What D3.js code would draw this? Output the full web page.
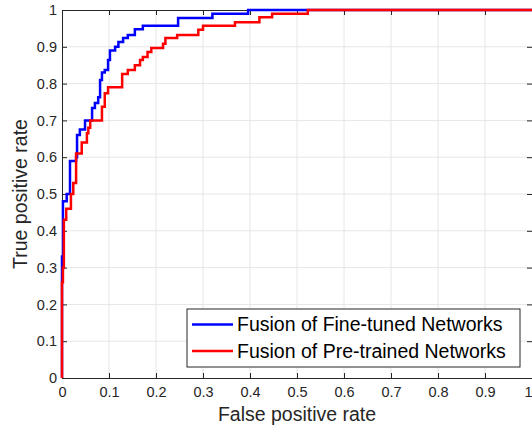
<!DOCTYPE html>
<html>
<head>
<meta charset="utf-8">
<script src="https://cdn.jsdelivr.net/npm/d3@7"></script>
<style>
body { margin: 0; background: #fff; }
svg { display: block; font-family: "Liberation Sans", Arial, sans-serif; }
</style>
</head>
<body>
<script>
// ROC corners: at fpr the curve rises to tpr
var fineFpr = [0, 0, 0.002, 0.01, 0.017, 0.03, 0.032, 0.038, 0.049, 0.064, 0.07, 0.077, 0.081, 0.085, 0.091, 0.098, 0.102, 0.113, 0.12, 0.13, 0.14, 0.155, 0.172, 0.247, 0.32, 0.396, 1];
var fineTpr = [0, 0.33, 0.48, 0.5, 0.59, 0.6, 0.66, 0.675, 0.70, 0.734, 0.747, 0.763, 0.81, 0.83, 0.837, 0.864, 0.89, 0.9, 0.913, 0.924, 0.932, 0.948, 0.957, 0.978, 0.99, 1, 1];

var preFpr = [0, 0, 0.002, 0.004, 0.009, 0.019, 0.024, 0.03, 0.042, 0.053, 0.056, 0.06, 0.085, 0.091, 0.098, 0.128, 0.14, 0.155, 0.166, 0.172, 0.182, 0.19, 0.215, 0.22, 0.245, 0.29, 0.3, 0.368, 0.42, 0.447, 0.523, 1];
var preTpr = [0, 0.26, 0.30, 0.43, 0.46, 0.50, 0.53, 0.61, 0.64, 0.665, 0.68, 0.70, 0.737, 0.774, 0.79, 0.826, 0.837, 0.85, 0.864, 0.872, 0.886, 0.897, 0.908, 0.924, 0.932, 0.946, 0.957, 0.967, 0.98, 0.99, 1, 1];

var seriesNames = ["Fusion of Fine-tuned Networks", "Fusion of Pre-trained Networks"];
var seriesColors = ["#0000ff", "#ff0000"];
var tickValues = [0, 0.1, 0.2, 0.3, 0.4, 0.5, 0.6, 0.7, 0.8, 0.9, 1];

var W = 532, H = 433;
var margin = {top: 10, right: 0, bottom: 55, left: 62};
var width = W - margin.left - margin.right;
var height = H - margin.top - margin.bottom;

var svg = d3.select("body").append("svg").attr("width", W).attr("height", H);
var g = svg.append("g").attr("transform", `translate(${margin.left},${margin.top})`);

var x = d3.scaleLinear().domain([0, 1]).range([0, width]);
var y = d3.scaleLinear().domain([0, 1]).range([height, 0]);

// grid
g.append("g").selectAll("line").data(tickValues.slice(1, -1)).join("line")
	.attr("x1", d => x(d)).attr("x2", d => x(d)).attr("y1", 0).attr("y2", height)
	.style("stroke", "#e6e6e6").style("stroke-width", 1);
g.append("g").selectAll("line").data(tickValues.slice(1, -1)).join("line")
	.attr("y1", d => y(d)).attr("y2", d => y(d)).attr("x1", 0).attr("x2", width)
	.style("stroke", "#e6e6e6").style("stroke-width", 1);

// axes, ticks pointing inward (matlab style)
var xAxis = g.append("g").attr("transform", `translate(0,${height})`)
	.call(d3.axisBottom(x).tickValues(tickValues).tickFormat(d3.format("")).tickSizeInner(-5).tickSizeOuter(0).tickPadding(9));
var xTop = g.append("g")
	.call(d3.axisTop(x).tickValues(tickValues).tickFormat("").tickSizeInner(-5).tickSizeOuter(0));
var yAxis = g.append("g")
	.call(d3.axisLeft(y).tickValues(tickValues).tickFormat(d3.format("")).tickSizeInner(-5).tickSizeOuter(0).tickPadding(5));
var yRight = g.append("g").attr("transform", `translate(${width},0)`)
	.call(d3.axisRight(y).tickValues(tickValues).tickFormat("").tickSizeInner(-5).tickSizeOuter(0));

[xAxis, xTop, yAxis, yRight].forEach(function(a){
	a.select(".domain").style("stroke", "#262626").style("stroke-width", 1);
	a.selectAll(".tick line").style("stroke", "#262626");
	a.selectAll(".tick text").style("fill", "#262626").style("font-size", "14.5px").style("font-family", "Liberation Sans, Arial, sans-serif");
});
// last x label sits on the window edge, nudge it in
xAxis.selectAll(".tick text").filter(d => d === 1).attr("dx", "-4");

var line = d3.line().x(d => x(d[0])).y(d => y(d[1])).curve(d3.curveStepAfter);

var series = [d3.zip(fineFpr, fineTpr), d3.zip(preFpr, preTpr)];
series.forEach(function(pts, i){
	g.append("path").datum(pts).attr("d", line)
		.style("fill", "none").style("stroke", seriesColors[i]).style("stroke-width", 2.5);
});

// axis titles
svg.append("text").attr("x", margin.left + width / 2).attr("y", 421)
	.attr("text-anchor", "middle").style("font-size", "19.5px").style("fill", "#262626")
	.text("False positive rate");
svg.append("text").attr("transform", `translate(27,${margin.top + height / 2}) rotate(-90)`)
	.attr("text-anchor", "middle").style("font-size", "19.5px").style("fill", "#262626")
	.text("True positive rate");

// legend
var leg = svg.append("g").attr("transform", "translate(187,309)");
leg.append("rect").attr("width", 333).attr("height", 58)
	.style("fill", "#fff").style("stroke", "#262626").style("stroke-width", 1);
seriesNames.forEach(function(name, i){
	var ly = 15.5 + i * 26.5;
	leg.append("line").attr("x1", 5).attr("x2", 46).attr("y1", ly).attr("y2", ly)
		.style("stroke", seriesColors[i]).style("stroke-width", 2.5);
	leg.append("text").attr("x", 50).attr("y", ly + 6.5)
		.style("font-size", "19.5px").style("fill", "#000").text(name);
});
</script>
</body>
</html>
